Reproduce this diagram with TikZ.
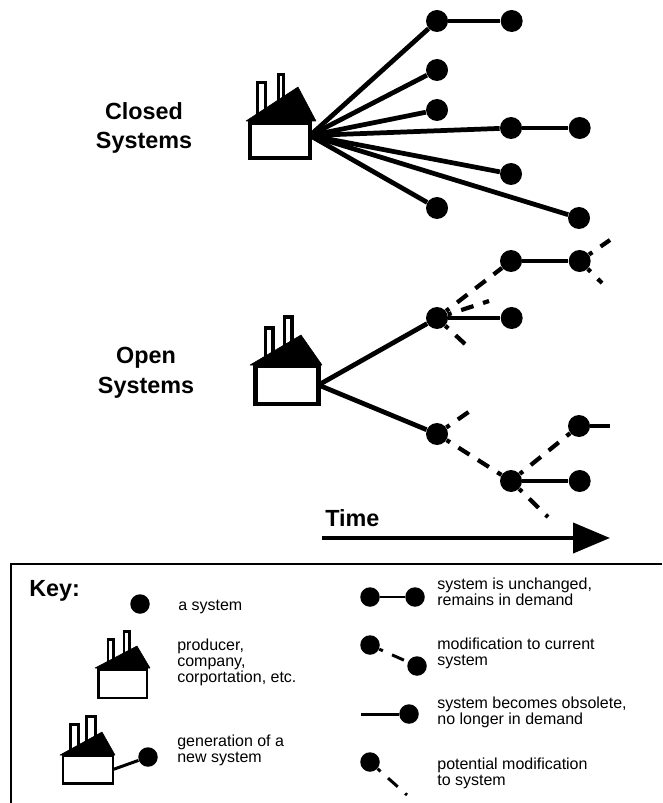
\documentclass[tikz,border=0pt]{standalone}
\usepackage{fontspec}
\setmainfont{Liberation Sans}
\usetikzlibrary{arrows.meta, positioning}

\begin{document}
\begin{tikzpicture}[
    x=0.02cm, y=-0.02cm,
    node distance=0.92cm,
    system/.style={circle, fill=black, inner sep=0pt, minimum size=0.44cm},
    keysystem/.style={circle, fill=black, inner sep=0pt, minimum size=0.39cm},
    body/.style={draw, rectangle, fill=white, inner sep=0pt, outer sep=0pt, line width=2.6pt},
    keybody/.style={body, line width=1.7pt},
    roof/.style={fill=black, draw=black, line width=0.3pt, line join=round},
    chimney/.style={draw, fill=white, line width=1.8pt},
    keychimney/.style={draw, fill=white, line width=1.5pt},
    branch/.style={line width=2.7pt},
    stays/.style={line width=2.2pt},
    modif/.style={line width=2.4pt, dash pattern=on 7.4pt off 5.7pt, dash phase=5.1pt},
    keymodif/.style={line width=1.7pt, dash pattern=on 7.4pt off 5.7pt, dash phase=5.1pt},
    keyline/.style={line width=1.7pt},
    heading/.style={font=\bfseries\fontsize{13.3}{17}\selectfont, align=center, inner sep=0pt},
    note/.style={font=\fontsize{9.1}{9}\selectfont, align=left, anchor=west, inner sep=0pt}
]
    \useasboundingbox (0,0) rectangle (662,803);

    % Closed factory
    \draw[chimney] (257.5,82.5) rectangle (265.5,115);
    \draw[chimney] (278.5,74.5) rectangle (283.5,105);
    \draw[roof] (246,121) -- (298,87) -- (316,121) -- cycle;
    \node[body, minimum width=1.2cm, minimum height=0.7cm] (closed) at (280,140.5) {};
    \coordinate (closedhub) at ([yshift=0.1cm]closed.east);
    \node[heading] (closedtext) at (144,128) {Closed\\Systems};

    % Closed systems
    \node[system] (c1) at (437,21) {};
    \node[system, right=1.04cm of c1] (c2) {};
    \node[system] (c3) at (437,70) {};
    \node[system] (c4) at (437,110) {};
    \node[system] (c5) at (511,128) {};
    \node[system, right=of c5] (c6) {};
    \node[system] (c7) at (511,174) {};
    \node[system] (c8) at (437,208) {};
    \node[system] (c9) at (579,218) {};

    \draw[branch] (closedhub) -- (c1);
    \draw[branch] (closedhub) -- (c3);
    \draw[branch] (closedhub) -- (c4);
    \draw[branch] (closedhub) -- (c5);
    \draw[branch] (closedhub) -- (c7);
    \draw[branch] (closedhub) -- (c8);
    \draw[branch] (closedhub) -- (c9);
    \draw[stays] (c1) -- (c2);
    \draw[stays] (c5) -- (c6);

    % Open factory
    \draw[chimney] (265.5,328) rectangle (273,360);
    \draw[chimney] (284.5,317) rectangle (292,350);
    \draw[roof] (250,365) -- (301,335) -- (322,365) -- cycle;
    \node[body, minimum width=1.26cm, minimum height=0.76cm] (open) at (287,385) {};
    \node[heading] (opentext) at (146,373) {Open\\Systems};

    % Open systems
    \node[system] (o1) at (511,261) {};
    \node[system, right=of o1] (o2) {};
    \node[system] (o3) at (437,318) {};
    \node[system, right=1.04cm of o3] (o4) {};
    \node[system] (o5) at (437,434) {};
    \node[system] (o6) at (579,426) {};
    \node[system] (o7) at (511,481) {};
    \node[system, right=of o7] (o8) {};

    % Free ends
    \coordinate (f1) at (610,240);
    \coordinate (f2) at (602,283);
    \coordinate (f3) at (489,301);
    \coordinate (f4) at (465,344);
    \coordinate (f5) at (470,411);
    \coordinate (f6) at (610,426);
    \coordinate (f7) at (548,517);

    \draw[branch] (open.east) -- (o3);
    \draw[branch] (open.east) -- (o5);
    \draw[stays] (o1) -- (o2);
    \draw[stays] (o3) -- (o4);
    \draw[stays] (o7) -- (o8);
    \draw[stays] (o6) -- (f6);
    \draw[modif] (o3) -- (o1);
    \draw[modif] (o3) -- (f3);
    \draw[modif] (o3) -- (f4);
    \draw[modif] (o2) -- (f1);
    \draw[modif] (o2) -- (f2);
    \draw[modif] (o5) -- (f5);
    \draw[modif] (o5) -- (o7);
    \draw[modif] (o7) -- (o6);
    \draw[modif] (o7) -- (f7);

    % Time arrow
    \node[heading, anchor=west] (time) at (325,518) {Time};
    \coordinate (timestart) at (322,538);
    \coordinate (timeend) at (610,538);
    \draw[modif, dash pattern=on 1000pt off 0pt, -{Triangle[length=21pt, width=17pt]}] (timestart) -- (timeend);

    % Key frame
    \coordinate (framea) at (11,803);
    \coordinate (frameb) at (11,564);
    \coordinate (framec) at (662,564);
    \draw[line width=1.5pt] (framea) -- (frameb) -- (framec);
    \node[heading, anchor=west] (key) at (29,591) {Key:};

    % Key, left column
    \node[keysystem] (k1) at (140,604) {};
    \node[note] (k1text) at (178,607) {a system};

    \draw[keychimney] (108,639.5) rectangle (113.5,665);
    \draw[keychimney] (124,631.5) rectangle (129.5,658);
    \draw[roof] (95,668) -- (137,646) -- (150,668) -- cycle;
    \node[keybody, minimum width=0.98cm, minimum height=0.58cm] (k2) at (122.5,683.5) {};
    \node[note] (k2text) at (177,662.5) {producer,\\company,\\corportation, etc.};

    \draw[keychimney] (70.5,724.5) rectangle (78.5,750);
    \draw[keychimney] (86.5,716.5) rectangle (95.5,745);
    \draw[roof] (60,755) -- (102,732) -- (115,755) -- cycle;
    \node[keybody, minimum width=1cm, minimum height=0.56cm] (k3) at (88,769.5) {};
    \node[keysystem] (k3sys) at (148,757) {};
    \draw[keyline] (k3.east) -- (k3sys);
    \node[note] (k3text) at (177,750) {generation of a\\new system};

    % Key, right column
    \node[keysystem] (k4) at (370,597) {};
    \node[keysystem] (k4end) at (415,597) {};
    \draw[keyline] (k4) -- (k4end);
    \node[note] (k4text) at (437,592) {system is unchanged,\\remains in demand};

    \node[keysystem] (k5) at (370,645) {};
    \node[keysystem] (k5end) at (417,666) {};
    \draw[keymodif] (k5) -- (k5end);
    \node[note] (k5text) at (437,653) {modification to current\\system};

    \coordinate (k6start) at (361,714);
    \node[keysystem] (k6) at (409,714) {};
    \draw[keyline] (k6start) -- (k6);
    \node[note] (k6text) at (437,712) {system becomes obsolete,\\no longer in demand};

    \node[keysystem] (k7) at (370,762) {};
    \coordinate (k7end) at (407,795);
    \draw[keymodif] (k7) -- (k7end);
    \node[note] (k7text) at (437,773.5) {potential modification\\to system};
\end{tikzpicture}
\end{document}
